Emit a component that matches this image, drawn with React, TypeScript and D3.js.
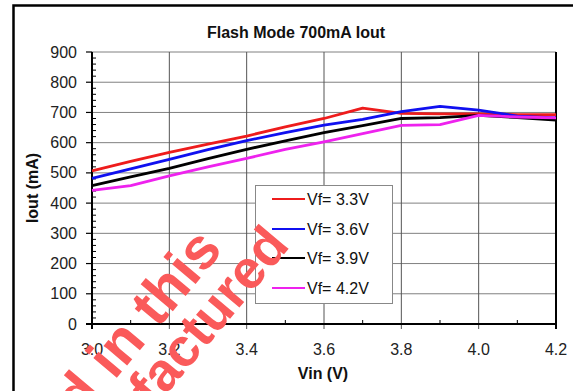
import React from "react";
import * as d3 from "d3";

const vin = [3.0, 3.1, 3.2, 3.3, 3.4, 3.5, 3.6, 3.7, 3.8, 3.9, 4.0, 4.1, 4.2];
const vf33 = [507, 538, 568, 595, 622, 652, 680, 714, 697, 695, 695, 693, 693];
const vf36 = [482, 513, 545, 577, 607, 633, 658, 677, 703, 720, 708, 688, 682];
const vf39 = [458, 487, 515, 547, 578, 606, 633, 656, 680, 683, 690, 683, 675];
const vf42 = [442, 458, 490, 520, 548, 578, 603, 630, 657, 660, 690, 685, 682];
const seriesNames = ["Vf= 3.3V", "Vf= 3.6V", "Vf= 3.9V", "Vf= 4.2V"];
const seriesColors = ["#ee1c1c", "#1010f0", "#000000", "#ee22ee"];
const xTicks = [3.0, 3.2, 3.4, 3.6, 3.8, 4.0, 4.2];
const yTicks = [0, 100, 200, 300, 400, 500, 600, 700, 800, 900];
const titleText = "Flash Mode 700mA Iout";
const xLabel = "Vin (V)";
const yLabel = "Iout (mA)";
const watermark = ["od in this", "nufactured"];

const FONT = "Arial, 'Liberation Sans', sans-serif";

export default function App() {
  const W = 573, H = 391;
  const x = d3.scaleLinear().domain([3.0, 4.2]).range([92, 556]);
  const y = d3.scaleLinear().domain([0, 900]).range([324, 52]);
  const series = [vf33, vf36, vf39, vf42];
  const line = d3.line<number>().x((_, i) => x(vin[i])).y((d) => y(d));

  const yMinor = d3.range(0, 901, 20).filter((v) => v % 100 !== 0);
  const xMinor = d3.range(31, 42, 2).map((v) => v / 10);

  const legendX = 255, legendY = 185, legendW = 137, legendH = 118;
  const rowY = [199, 229, 258, 288];

  return (
    <svg width={W} height={H} style={{ position: "absolute", left: 0, top: 0, background: "#fff" }} fontFamily={FONT}>
      <rect x={0} y={0} width={W} height={H} fill="#fff" />
      <rect x={13.5} y={5.5} width={620} height={420} fill="none" stroke="#000" strokeWidth={2.5} />
      <text x={296} y={38} textAnchor="middle" fontSize={16} fontWeight="bold" fill="#111">{titleText}</text>

      {/* grid */}
      {yTicks.filter((v) => v > 0).map((v) => (
        <line key={"gy" + v} x1={x(3.0)} x2={x(4.2)} y1={y(v)} y2={y(v)} stroke="#808080" strokeWidth={1} />
      ))}
      {xTicks.filter((v) => v > 3.0 && v < 4.2).map((v) => (
        <line key={"gx" + v} x1={x(v)} x2={x(v)} y1={y(900)} y2={y(0) + 5} stroke="#555" strokeWidth={1} />
      ))}
      <line x1={x(4.2)} x2={x(4.2)} y1={y(900)} y2={y(0) + 5} stroke="#000" strokeWidth={2} />

      {/* axes */}
      <line x1={x(3.0)} x2={x(3.0)} y1={y(900)} y2={y(0) + 5} stroke="#000" strokeWidth={2} />
      <line x1={x(3.0) - 6} x2={x(4.2)} y1={y(0)} y2={y(0)} stroke="#000" strokeWidth={2} />
      {yTicks.map((v) => (
        <line key={"ty" + v} x1={x(3.0) - 6} x2={x(3.0)} y1={y(v)} y2={y(v)} stroke="#000" strokeWidth={1.2} />
      ))}
      {yMinor.map((v) => (
        <line key={"my" + v} x1={x(3.0)} x2={x(3.0) + 4} y1={y(v)} y2={y(v)} stroke="#000" strokeWidth={1} />
      ))}
      {xMinor.map((v) => (
        <line key={"mx" + v} x1={x(v)} x2={x(v)} y1={y(0)} y2={y(0) - 4} stroke="#000" strokeWidth={1} />
      ))}
      {yTicks.map((v) => (
        <text key={"ly" + v} x={77} y={y(v)} dy="0.35em" textAnchor="end" fontSize={16} fill="#222">{v}</text>
      ))}
      {xTicks.map((v) => (
        <text key={"lx" + v} x={x(v)} y={355} textAnchor="middle" fontSize={16} fill="#222">{v.toFixed(1)}</text>
      ))}
      <text x={323} y={379} textAnchor="middle" fontSize={16} fontWeight="bold" fill="#111">{xLabel}</text>
      <text transform="translate(38,188) rotate(-90)" textAnchor="middle" fontSize={16} fontWeight="bold" fill="#111">{yLabel}</text>

      {/* series */}
      {series.map((s, i) => (
        <path key={"s" + i} d={line(s) || ""} fill="none" stroke={seriesColors[i]} strokeWidth={2.8} strokeLinejoin="round" />
      ))}

      {/* legend */}
      <rect x={legendX + 0.5} y={legendY + 0.5} width={legendW} height={legendH} fill="#fff" stroke="#888" strokeWidth={1} />
      {seriesNames.map((n, i) => (
        <g key={"lg" + i}>
          <line x1={272} x2={305} y1={rowY[i]} y2={rowY[i]} stroke={seriesColors[i]} strokeWidth={2} />
          <text x={307} y={rowY[i]} dy="0.35em" fontSize={16} fill="#111">{n}</text>
        </g>
      ))}

      {/* watermark */}
      <text transform="translate(224,250) rotate(-50)" textAnchor="end" fontSize={58} fontWeight="bold" fill="#fa5a5a">{watermark[0]}</text>
      <text transform="translate(291,246) rotate(-50)" textAnchor="end" fontSize={54} fontWeight="bold" fill="#fa5a5a">{watermark[1]}</text>
    </svg>
  );
}
